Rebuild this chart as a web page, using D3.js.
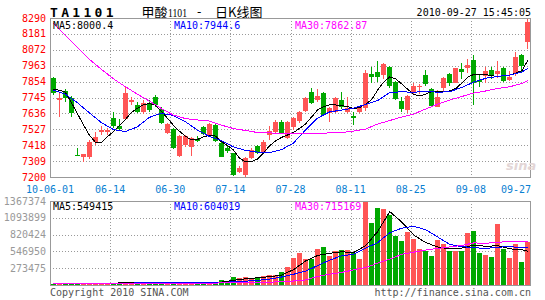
<!DOCTYPE html>
<html>
<head>
<meta charset="utf-8">
<script src="https://cdn.jsdelivr.net/npm/d3@7"></script>
<style>
  body { margin: 0; background: #fff; }
  text { font-family: "DejaVu Sans Mono", monospace; font-size: 10px; }
</style>
</head>
<body>
<svg width="545" height="300"></svg>
<script>
// daily bars, 2010-06-01 .. 2010-09-27
var open  = [7879,7726,7790,7742,7349,7339,7339,7442,7509,7509,7604,7550,7600,7716,7694,7648,7709,7750,7666,7504,
             7527,7346,7419,7404,7461,7545,7488,7554,7431,7399,7362,7236,7214,7328,7413,7362,7486,7511,7577,7465,
             7545,7586,7654,7781,7728,7778,7637,7648,7728,7648,7618,7648,7673,7906,7918,7899,7952,7853,7721,7659,
             7778,7819,7899,7801,7682,7808,7906,7846,7938,7949,8002,7865,7892,7934,7904,7945,7865,7904,8036,8125];
var high  = [7888,7776,7803,7757,7397,7360,7454,7511,7552,7536,7648,7598,7815,7750,7716,7728,7728,7762,7680,7570,
             7536,7488,7488,7476,7481,7550,7567,7563,7442,7419,7367,7275,7339,7397,7419,7454,7550,7591,7591,7584,
             7611,7654,7750,7808,7801,7785,7682,7750,7781,7750,7648,7690,7934,7956,7995,7984,7963,7858,7746,7762,
             7846,7838,7934,7808,7796,7883,7911,7949,7979,8007,8036,7899,7956,7956,7995,7956,7929,8059,8041,8290];
var low   = [7762,7611,7714,7614,7342,7305,7324,7419,7488,7488,7534,7522,7591,7694,7639,7632,7646,7680,7563,7495,
             7392,7339,7404,7344,7437,7488,7481,7442,7335,7365,7207,7225,7200,7321,7358,7356,7454,7495,7495,7461,
             7522,7568,7648,7700,7716,7618,7579,7641,7664,7637,7556,7641,7652,7846,7853,7870,7808,7728,7648,7637,
             7769,7769,7826,7678,7678,7792,7826,7842,7870,7911,7694,7819,7842,7870,7877,7853,7860,7892,7922,8077];
var close = [7776,7744,7744,7641,7346,7358,7442,7474,7522,7522,7550,7527,7778,7728,7648,7705,7659,7694,7572,7561,
             7397,7481,7481,7465,7447,7495,7561,7447,7339,7378,7214,7264,7332,7385,7362,7442,7517,7579,7500,7579,
             7602,7648,7740,7709,7755,7625,7671,7744,7678,7675,7602,7682,7916,7888,7883,7975,7826,7735,7664,7755,
             7824,7826,7838,7687,7750,7877,7846,7945,7922,7968,7846,7851,7927,7892,7927,7860,7888,8021,7961,8263];
var volume = [16000,33000,16000,33000,16000,33000,33000,33000,33000,24000,33000,33000,49000,33000,33000,44000,33000,33000,49000,33000,
              49000,44000,33000,44000,33000,33000,44000,54000,81000,65000,130000,114000,130000,98000,114000,151000,163000,163000,212000,298000,
              444000,526000,428000,428000,591000,619000,472000,553000,570000,570000,516000,428000,1367374,1014000,1258000,1242000,1135000,798000,716000,863000,
              754000,591000,553000,472000,733000,672000,553000,553000,553000,851000,879000,526000,488000,461000,998000,591000,444000,672000,379000,700000];

// moving averages
var ma5 = [7800,7796,7783,7714,7639,7563,7491,7440,7433,7474,7509,7550,7591,7642,7670,7694,7704,7694,7652,7604,
           7556,7515,7481,7454,7457,7474,7485,7481,7442,7416,7385,7330,7305,7305,7323,7365,7413,7447,7471,7488,
           7505,7533,7563,7611,7659,7683,7694,7694,7690,7682,7670,7676,7700,7731,7796,7851,7886,7872,7838,7801,
           7766,7755,7769,7785,7785,7786,7790,7807,7844,7886,7903,7906,7902,7894,7890,7894,7899,7913,7930,8000.4];
var maDays = [0,2,4,6,8,10,12,14,16,18,20,22,24,26,28,30,32,34,36,38,40,42,44,46,48,50,52,54,56,58,60,62,64,66,68,70,72,74,76,78,79];
var ma10 = [7796,7769,7711,7642,7574,7526,7511,7543,7608,7637,7622,7580,7522,7478,7450,7406,7383,7371,7367,7387,
            7433,7522,7604,7646,7659,7673,7697,7724,7779,7784,7781,7788,7781,7785,7814,7851,7877,7890,7899,7920,7944.6];
var ma30 = [8256,8173,8091,8009,7940,7875,7820,7769,7721,7670,7625,7601,7591,7584,7556,7532,7519,7505,7502,7500,
            7500,7500,7500,7502,7504,7515,7529,7563,7587,7611,7632,7666,7700,7728,7752,7776,7790,7807,7819,7841,7862.87];
var vma5 = [30000,28000,25000,27000,30000,31000,35000,36000,36000,38000,40000,40000,40000,38000,48000,75000,100000,118000,135000,160000,
            250000,390000,480000,515000,540000,530000,640000,870000,1195000,1025000,814000,690000,619000,588000,600000,650000,630000,640000,588000,575000,549415];
var vma10 = [30000,30000,29000,29000,29000,29000,31000,33000,34000,36000,37000,39000,39000,39000,43000,52000,62000,75000,95000,130000,
             175000,225000,315000,405000,475000,500000,600000,690000,850000,925000,955000,900000,780000,660000,625000,608000,595000,615000,625000,607000,604019];
var vma30 = [22000,22000,22000,22000,22000,23000,24000,25000,26000,27000,28000,29000,30000,31000,33000,36000,40000,44000,48000,50000,
             65000,82000,140000,175000,205000,245000,285000,355000,420000,500000,535000,570000,595000,620000,645000,685000,680000,695000,710000,712000,715169];

var priceTicks = [7200,7309,7418,7527,7636,7745,7854,7963,8072,8181,8290];
var volTicks = [0,273475,546950,820424,1093899,1367374];
var dateTicks = ["10-06-01","06-14","06-30","07-14","07-28","08-11","08-25","09-08","09-27"];

var svg = d3.select("svg");
var left = 50, right = 531;
var pTop = 18, pBot = 177, vTop = 201, vBot = 285;
var up = "#ff5555", down = "#00a800", grid = "#999";

var x = d3.scaleBand().domain(d3.range(close.length)).range([left, right])
  .paddingInner(1/6).paddingOuter(1/12);
var xc = function(i) { return x(i) + x.bandwidth() / 2; };
var xg = d3.scaleLinear().domain([0, dateTicks.length - 1]).range([left, right]);
var y = d3.scaleLinear().domain([7200, 8290]).range([pBot, pTop]);
var yv = d3.scaleLinear().domain([0, 1367374]).range([vBot, vTop]);

// header
svg.append("text").attr("x", 50).attr("y", 16.5)
  .style("font-size", "13px").style("font-weight", "bold").style("letter-spacing", "3.3px")
  .text("TA1101");
svg.append("text").attr("x", 141.5).attr("y", 16.5)
  .style("font-family", "Noto Sans CJK SC").style("font-size", "13px").text("甲酸");
svg.append("text").attr("x", 168).attr("y", 16.5)
  .attr("textLength", 19).attr("lengthAdjust", "spacingAndGlyphs")
  .style("font-family", "Liberation Serif").style("font-size", "13px").text("1101");
svg.append("text").attr("x", 197).attr("y", 16)
  .style("font-family", "DejaVu Sans").style("font-size", "12px").text("-");
svg.append("text").attr("x", 215).attr("y", 16.5)
  .style("font-family", "Noto Sans CJK SC").style("font-size", "13px").text("日K线图");
svg.append("text").attr("x", right).attr("y", 16).attr("text-anchor", "end")
  .text("2010-09-27 15:45:05");

// grids
function hgrid(scale, ticks) {
  svg.append("g").selectAll("line").data(ticks.slice(1, -1)).enter().append("line")
    .attr("x1", left).attr("x2", right)
    .attr("y1", function(d) { return Math.round(scale(d)) + 0.5; })
    .attr("y2", function(d) { return Math.round(scale(d)) + 0.5; })
    .attr("stroke", grid).attr("stroke-dasharray", "1,2");
}
function vgrid(t, b) {
  svg.append("g").selectAll("line").data(d3.range(1, dateTicks.length - 1)).enter().append("line")
    .attr("x1", function(d) { return Math.round(xg(d)) + 0.5; })
    .attr("x2", function(d) { return Math.round(xg(d)) + 0.5; })
    .attr("y1", t).attr("y2", b)
    .attr("stroke", grid).attr("stroke-dasharray", "1,2");
}
hgrid(y, priceTicks); vgrid(pTop, pBot);
hgrid(yv, volTicks); vgrid(vTop, vBot);

// axis labels
svg.append("g").selectAll("text").data(priceTicks).enter().append("text")
  .attr("x", 46).attr("y", function(d) { return y(d); }).attr("dy", "0.35em")
  .attr("text-anchor", "end").attr("fill", "#ff0000").text(function(d) { return d; });
svg.append("g").selectAll("text").data(volTicks.slice(1)).enter().append("text")
  .attr("x", 46).attr("y", function(d) { return yv(d); }).attr("dy", "0.35em")
  .attr("text-anchor", "end").attr("fill", "#999").text(function(d) { return d; });
svg.append("g").selectAll("text").data(dateTicks).enter().append("text")
  .attr("x", function(d, i) { return xg(i); }).attr("y", 192.5)
  .attr("text-anchor", function(d, i) { return i == dateTicks.length - 1 ? "end" : "middle"; })
  .attr("fill", "#0a80d2").text(function(d) { return d; });

// candles
var c = svg.append("g").attr("shape-rendering", "crispEdges");
d3.range(close.length).forEach(function(i) {
  var col = close[i] >= open[i] ? up : down;
  var bx = Math.round(x(i));
  c.append("line").attr("x1", bx + 2.5).attr("x2", bx + 2.5)
    .attr("y1", y(high[i])).attr("y2", y(low[i])).attr("stroke", col);
  var t = y(Math.max(open[i], close[i])), b = y(Math.min(open[i], close[i]));
  c.append("rect").attr("x", bx).attr("width", 5)
    .attr("y", t).attr("height", Math.max(1, b - t)).attr("fill", col);
  var vy = yv(volume[i]);
  c.append("rect").attr("x", bx).attr("width", 5)
    .attr("y", vy).attr("height", vBot - vy).attr("fill", col);
});

// moving average lines
function maLine(days, vals, scale, color) {
  var line = d3.line().x(function(d, k) { return xc(days[k]); }).y(function(d) { return scale(d); });
  svg.append("path").datum(vals).attr("d", line)
    .attr("fill", "none").attr("stroke", color).attr("stroke-width", 1)
    .attr("shape-rendering", "crispEdges");
}
maLine(d3.range(ma5.length), ma5, y, "#000");
maLine(maDays, ma10, y, "#0000ff");
maLine(maDays, ma30, y, "#ff00ff");
maLine(maDays, vma5, yv, "#000");
maLine(maDays, vma10, yv, "#0000ff");
maLine(maDays, vma30, yv, "#ff00ff");

// frames
svg.append("rect").attr("x", left + 0.5).attr("y", pTop + 0.5)
  .attr("width", right - left - 1).attr("height", pBot - pTop)
  .attr("fill", "none").attr("stroke", "#999");
svg.append("rect").attr("x", left + 0.5).attr("y", vTop + 0.5)
  .attr("width", right - left - 1).attr("height", vBot - vTop)
  .attr("fill", "none").attr("stroke", "#999");

// MA legends
function legend(yy, vals) {
  var cols = ["#000", "#0000ff", "#ff00ff"], xs = [53, 174, 295], names = ["MA5:", "MA10:", "MA30:"];
  vals.forEach(function(v, k) {
    svg.append("text").attr("x", xs[k]).attr("y", yy).attr("fill", cols[k]).text(names[k] + v);
  });
}
legend(28.5, [ma5[ma5.length - 1], ma10[ma10.length - 1], ma30[ma30.length - 1]]);
legend(210, [vma5[vma5.length - 1], vma10[vma10.length - 1], vma30[vma30.length - 1]]);

// watermark
svg.append("text").attr("x", 506).attr("y", 170)
  .style("font-family", "DejaVu Sans").style("font-size", "13px").style("font-style", "italic")
  .style("font-weight", "bold").attr("fill", "#e3d6d6").text("sina");

// footer
svg.append("text").attr("x", 50).attr("y", 296).attr("fill", "#555").text("Copyright 2010 SINA.COM");
svg.append("text").attr("x", right).attr("y", 296).attr("text-anchor", "end").attr("fill", "#555")
  .text("http://finance.sina.com.cn");
</script>
</body>
</html>
